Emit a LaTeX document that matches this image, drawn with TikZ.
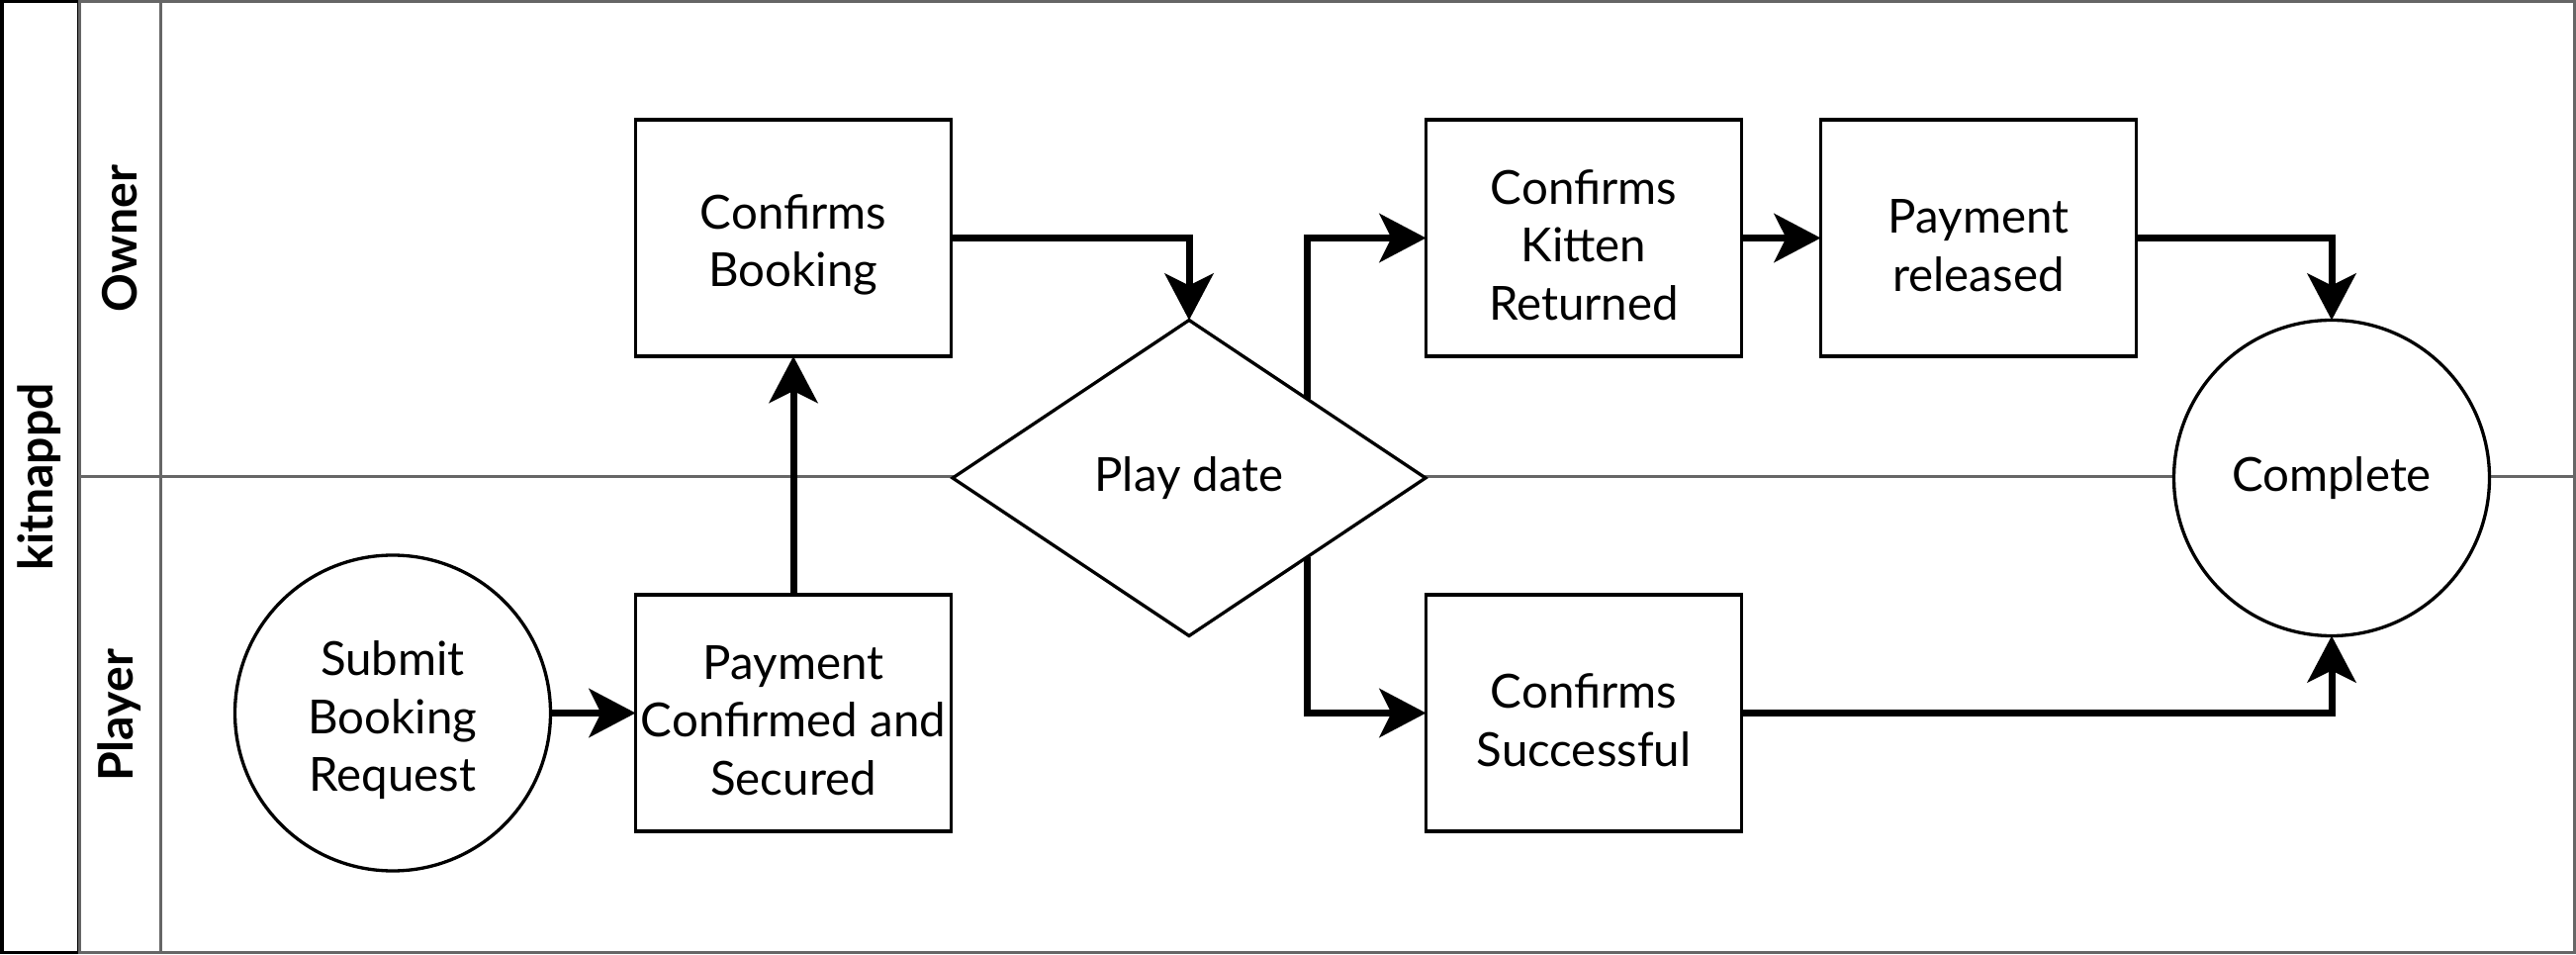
\documentclass[tikz,border=0pt]{standalone}
\usepackage{fontspec}
\setmainfont{Lato}
\usepackage{tikz}
\usetikzlibrary{arrows.meta, positioning, shapes.geometric}
\usepackage{xcolor}
\definecolor{lane}{HTML}{666666}
\definecolor{edge}{HTML}{000000}
\newcommand{\tl}{\rule{0pt}{14pt}}
\tikzset{
  n/.style={draw=edge, line width=0.033cm, align=center, font=\fontsize{13.5}{16.6}\selectfont, inner sep=1pt, outer sep=0pt, fill=white},
  nb/.style={n, minimum width=3.19cm, minimum height=2.39cm},
  nc/.style={n, circle, minimum size=3.19cm},
  nd/.style={n, diamond, minimum width=4.78cm, minimum height=3.19cm},
  a/.style={-{Stealth[length=0.47cm, width=0.49cm, inset=0.12cm]}, draw=edge, line width=0.07cm},
  ln/.style={draw=lane, line width=0.03cm},
  lbl/.style={font=\fontsize{13.7}{16}\selectfont\bfseries, rotate=90},
}
\begin{document}
\begin{tikzpicture}
\useasboundingbox (0,0) rectangle (26.04,9.64);
\fill[white] (0,0) rectangle (26.04,9.64);
\draw[line width=0.035cm] (0.0175,0.0175) rectangle (0.80,9.6225);
\draw[ln] (0.80,0.015) rectangle (26.025,9.625);
\draw[ln] (1.62,0.015) -- (1.62,9.625);
\draw[ln] (0.80,4.82) -- (26.025,4.82);
\node[lbl] (pool) at (0.40,4.82) {kitnappd};
\node[lbl] (owner) at (1.21,7.23) {Owner};
\node[lbl] (player) at (1.21,2.41) {Player};

\node[nb] (book) at (8.02,7.235) {\tl Confirms\\Booking};
\node[nb, below=2.41cm of book] (pay) {\tl Payment\\Confirmed and\\Secured};
\node[nc, left=0.86cm of pay] (submit) {\tl Submit\\Booking\\Request};
\node[nd] (play) at (12.02,4.81) {Play date};
\node[nb] (kitten) at (16.01,7.235) {\tl Confirms\\Kitten\\Returned};
\node[nb, right=0.8cm of kitten] (released) {\tl Payment\\released};
\node[nb, below=2.41cm of kitten] (success) {\tl Confirms\\Successful};
\node[nc] (done) at (23.57,4.81) {Complete};

\draw[a] (submit) -- (pay);
\draw[a] (pay) -- (book);
\draw[a] (book.east) -| (play.north);
\draw[a] (play.north east) |- (kitten.west);
\draw[a] (play.south east) |- (success.west);
\draw[a] (kitten) -- (released);
\draw[a] (released.east) -| (done.north);
\draw[a] (success.east) -| (done.south);
\end{tikzpicture}
\end{document}
